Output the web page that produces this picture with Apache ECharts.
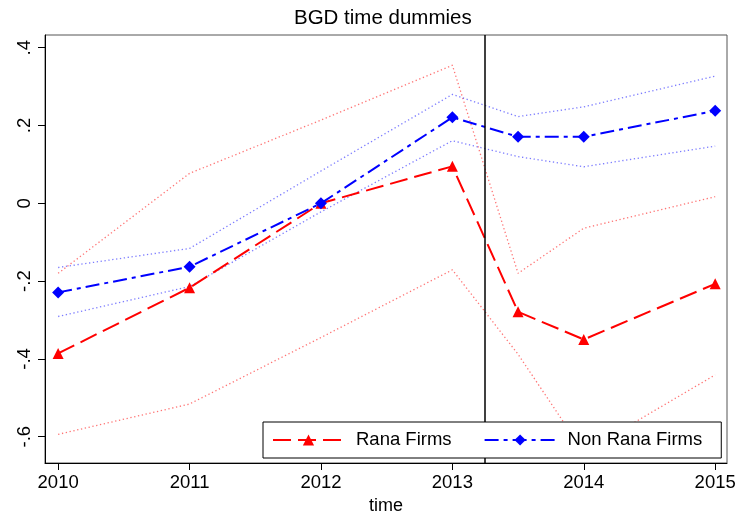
<!DOCTYPE html>
<html>
<head>
<meta charset="utf-8">
<script src="https://cdn.jsdelivr.net/npm/echarts@6/dist/echarts.min.js"></script>
<style>html,body{margin:0;padding:0;background:#fff}#c{width:737px;height:513px}</style>
</head>
<body>
<div id="c"></div>
<script>
const years = [2010, 2011, 2012, 2013, 2013.5, 2014, 2015];
const rana = [-0.386, -0.217, 0.0, 0.095, -0.279, -0.350, -0.207];
const ranaUpper = [-0.180, 0.077, 0.214, 0.355, -0.180, -0.064, 0.017];
const ranaLower = [-0.594, -0.516, -0.345, -0.171, -0.388, -0.640, -0.441];
const nonRana = [-0.229, -0.163, 0.0, 0.221, 0.171, 0.171, 0.238];
const nonRanaUpper = [-0.165, -0.116, 0.083, 0.280, 0.223, 0.248, 0.327];
const nonRanaLower = [-0.291, -0.214, -0.022, 0.161, 0.120, 0.094, 0.147];
const xTicks = [2010, 2011, 2012, 2013, 2014, 2015];
const yTicks = [-0.6, -0.4, -0.2, 0, 0.2, 0.4];
const cutoff = 2013.25;

const FONT = 'Liberation Sans, Arial, Helvetica, sans-serif';
const pairs = (ys) => years.map((x, i) => [x, ys[i]]);
const fmtY = (v) => {
  if (Math.abs(v) < 1e-9) return '0';
  return (v < 0 ? '-' : '') + Math.abs(v).toFixed(1).replace(/^0/, '');
};

const chart = echarts.init(document.getElementById('c'), null, {renderer: 'canvas'});
const ciStyle = (color) => ({
  type: 'line', symbol: 'none', silent: true,
  lineStyle: {color: color, width: 1.3, type: [1.3, 2.6]},
  z: 1
});

chart.setOption({
  animation: false,
  backgroundColor: '#fff',
  graphic: [{
    type: 'text', left: 386 - 92, top: 8,
    style: {text: 'BGD time dummies', font: '20.5px ' + FONT, fill: '#000'}
  }],
  grid: {left: 45, top: 35, right: 10, bottom: 50, show: true, borderColor: '#555', borderWidth: 1,
         containLabel: false, outerBoundsMode: 'none'},
  legend: {
    data: ['Rana Firms', 'Non Rana Firms'],
    left: 263, top: 422,
    padding: [7, 19, 7, 9],
    itemWidth: 71, itemHeight: 14, itemGap: 32,
    borderColor: '#000', borderWidth: 1, borderRadius: 0,
    backgroundColor: '#fff',
    z: 20,
    textStyle: {fontFamily: FONT, fontSize: 18.5, color: '#000', padding: [0, 0, 0, 7], lineHeight: 22}
  },
  xAxis: {
    type: 'value', min: 2009.9, max: 2015.09,
    name: 'time', nameLocation: 'middle', nameGap: 30,
    nameTextStyle: {fontFamily: FONT, fontSize: 18, color: '#000'},
    axisLine: {show: true, onZero: false, lineStyle: {color: '#000', width: 1}},
    axisTick: {show: true, length: 7, customValues: xTicks, lineStyle: {color: '#000'}},
    axisLabel: {customValues: xTicks, margin: 10, fontFamily: FONT, fontSize: 18.5, color: '#000', formatter: (v) => String(v)},
    splitLine: {show: false}
  },
  yAxis: {
    type: 'value', min: -0.6676, max: 0.4327,
    axisLine: {show: true, onZero: false, lineStyle: {color: '#000', width: 1}},
    axisTick: {show: true, length: 7, customValues: yTicks, lineStyle: {color: '#000'}},
    axisLabel: {customValues: yTicks, rotate: 90, margin: 11, fontFamily: FONT, fontSize: 18.5, color: '#000', formatter: fmtY},
    splitLine: {show: false}
  },
  series: [
    Object.assign(ciStyle('rgba(255,70,70,0.75)'), {name: 'Rana upper', data: pairs(ranaUpper)}),
    Object.assign(ciStyle('rgba(255,70,70,0.75)'), {name: 'Rana lower', data: pairs(ranaLower)}),
    Object.assign(ciStyle('rgba(80,80,255,0.75)'), {name: 'Non Rana upper', data: pairs(nonRanaUpper)}),
    Object.assign(ciStyle('rgba(80,80,255,0.75)'), {name: 'Non Rana lower', data: pairs(nonRanaLower)}),
    {
      name: 'Rana Firms', type: 'line', data: pairs(rana),
      symbol: 'triangle', symbolSize: 11,
      itemStyle: {color: '#ff0000'},
      lineStyle: {color: '#ff0000', width: 2, type: [18, 7]},
      z: 3,
      markLine: {
        silent: true, symbol: 'none', label: {show: false},
        lineStyle: {color: '#000', type: 'solid', width: 1.5},
        data: [{xAxis: cutoff}]
      }
    },
    {
      name: 'Non Rana Firms', type: 'line', data: pairs(nonRana),
      symbol: 'diamond', symbolSize: 12,
      itemStyle: {color: '#0000ff'},
      lineStyle: {color: '#0000ff', width: 2, type: [14, 5, 4, 5]},
      z: 4
    }
  ]
});
</script>
</body>
</html>
